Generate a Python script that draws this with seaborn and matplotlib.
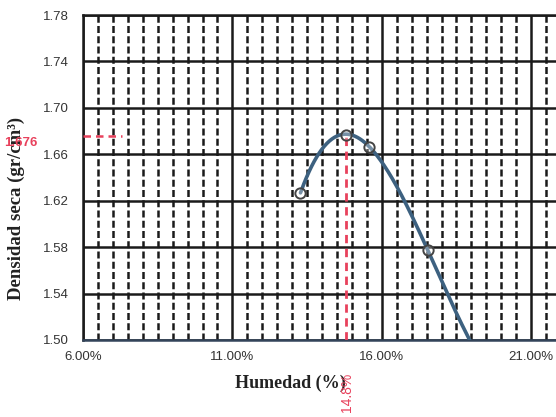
import numpy as np
import pandas as pd
import matplotlib
matplotlib.use('Agg')
import matplotlib.pyplot as plt
import matplotlib.ticker as ticker
import seaborn as sns

# Proctor test points (moisture %, dry density)
humedad = [13.28, 14.82, 15.58, 17.55]
densidad = [1.6264, 1.6765, 1.6665, 1.5775]

# points read along the drawn trendline
curva_x = [13.28, 14.04, 14.82, 15.58, 15.93, 17.55, 18.94]
curva_y = [1.6264, 1.6665, 1.6775, 1.6665, 1.655, 1.5775, 1.50]

# optimum values
hum_opt = 14.8
dens_max = 1.676

x_ticks = [6, 11, 16, 21]
x_tick_labels = ['6.00%', '11.00%', '16.00%', '21.00%']
y_ticks = [1.50, 1.54, 1.58, 1.62, 1.66, 1.70, 1.74, 1.78]

sns.set_style('white')
plt.rcParams['font.family'] = ['Liberation Sans', 'DejaVu Sans']

fig = plt.figure(figsize=(5.56, 4.17), dpi=100)
ax = fig.add_axes([83/556, 77/417, 478/556, 325/417])

# smooth cubic trendline
coef = np.polyfit(curva_x, curva_y, 3)
xs = np.linspace(curva_x[0], curva_x[-1], 200)
curve = pd.DataFrame({'x': xs, 'y': np.polyval(coef, xs)})
pts = pd.DataFrame({'x': humedad, 'y': densidad})

# grid
ax.xaxis.set_minor_locator(ticker.MultipleLocator(0.5))
ax.grid(which='minor', axis='x', color='#1a1a1a', linestyle=(0, (2.8, 1.3)), linewidth=1.8, zorder=1)
ax.grid(which='major', axis='both', color='#1a1a1a', linestyle='-', linewidth=1.8, zorder=1)
ax.set_axisbelow(True)

sns.lineplot(data=curve, x='x', y='y', color='#3d6180', linewidth=2.6, ax=ax, zorder=4)
sns.scatterplot(data=pts, x='x', y='y', s=55, facecolor=(1, 1, 1, 0.3), edgecolor='#444444',
                linewidth=1.4, ax=ax, zorder=5)

# red dashed guide lines
ax.plot([6, 7.3], [dens_max, dens_max], color='#e8415c', linestyle=(0, (3, 2)), linewidth=1.8, zorder=3)
ax.plot([hum_opt, hum_opt], [1.50, dens_max], color='#e8415c', linestyle=(0, (3, 2)), linewidth=2, zorder=3)

ax.set_xlim(6, 22)
ax.set_ylim(1.50, 1.78)
ax.set_xticks(x_ticks)
ax.set_xticklabels(x_tick_labels)
ax.set_yticks(y_ticks)
ax.yaxis.set_major_formatter(ticker.FormatStrFormatter('%.2f'))
ax.tick_params(length=0, labelsize=9.5, colors='#333333', pad=10)
ax.tick_params(axis='x', pad=8)

for s in ['left', 'top', 'bottom']:
    ax.spines[s].set_color('#1a1a1a')
    ax.spines[s].set_linewidth(1.8)
ax.spines['bottom'].set_color('#33445a')
ax.spines['right'].set_visible(False)

ax.set_xlabel('Humedad (%)', family='Liberation Serif', fontweight='bold', fontsize=13,
              color='#222222')
ax.xaxis.set_label_coords((290 - 83)/478, -35/325)
ax.set_ylabel('')
fig.text(16/556, 1 - 208/417, 'Densidad seca (gr/cm³)', family='Liberation Serif',
         fontweight='bold', fontsize=13.5, color='#222222', rotation=90, ha='center', va='center')

# red annotations
fig.text(21/556, 1 - 143/417, '1.676', color='#e8415c', fontsize=9.5, fontweight='bold',
         ha='center', va='center')
fig.text(347/556, 1 - 392/417, '14.8%', color='#e8415c', fontsize=10, ha='center', va='center',
         rotation=90)

fig.savefig('out.png', dpi=100)
